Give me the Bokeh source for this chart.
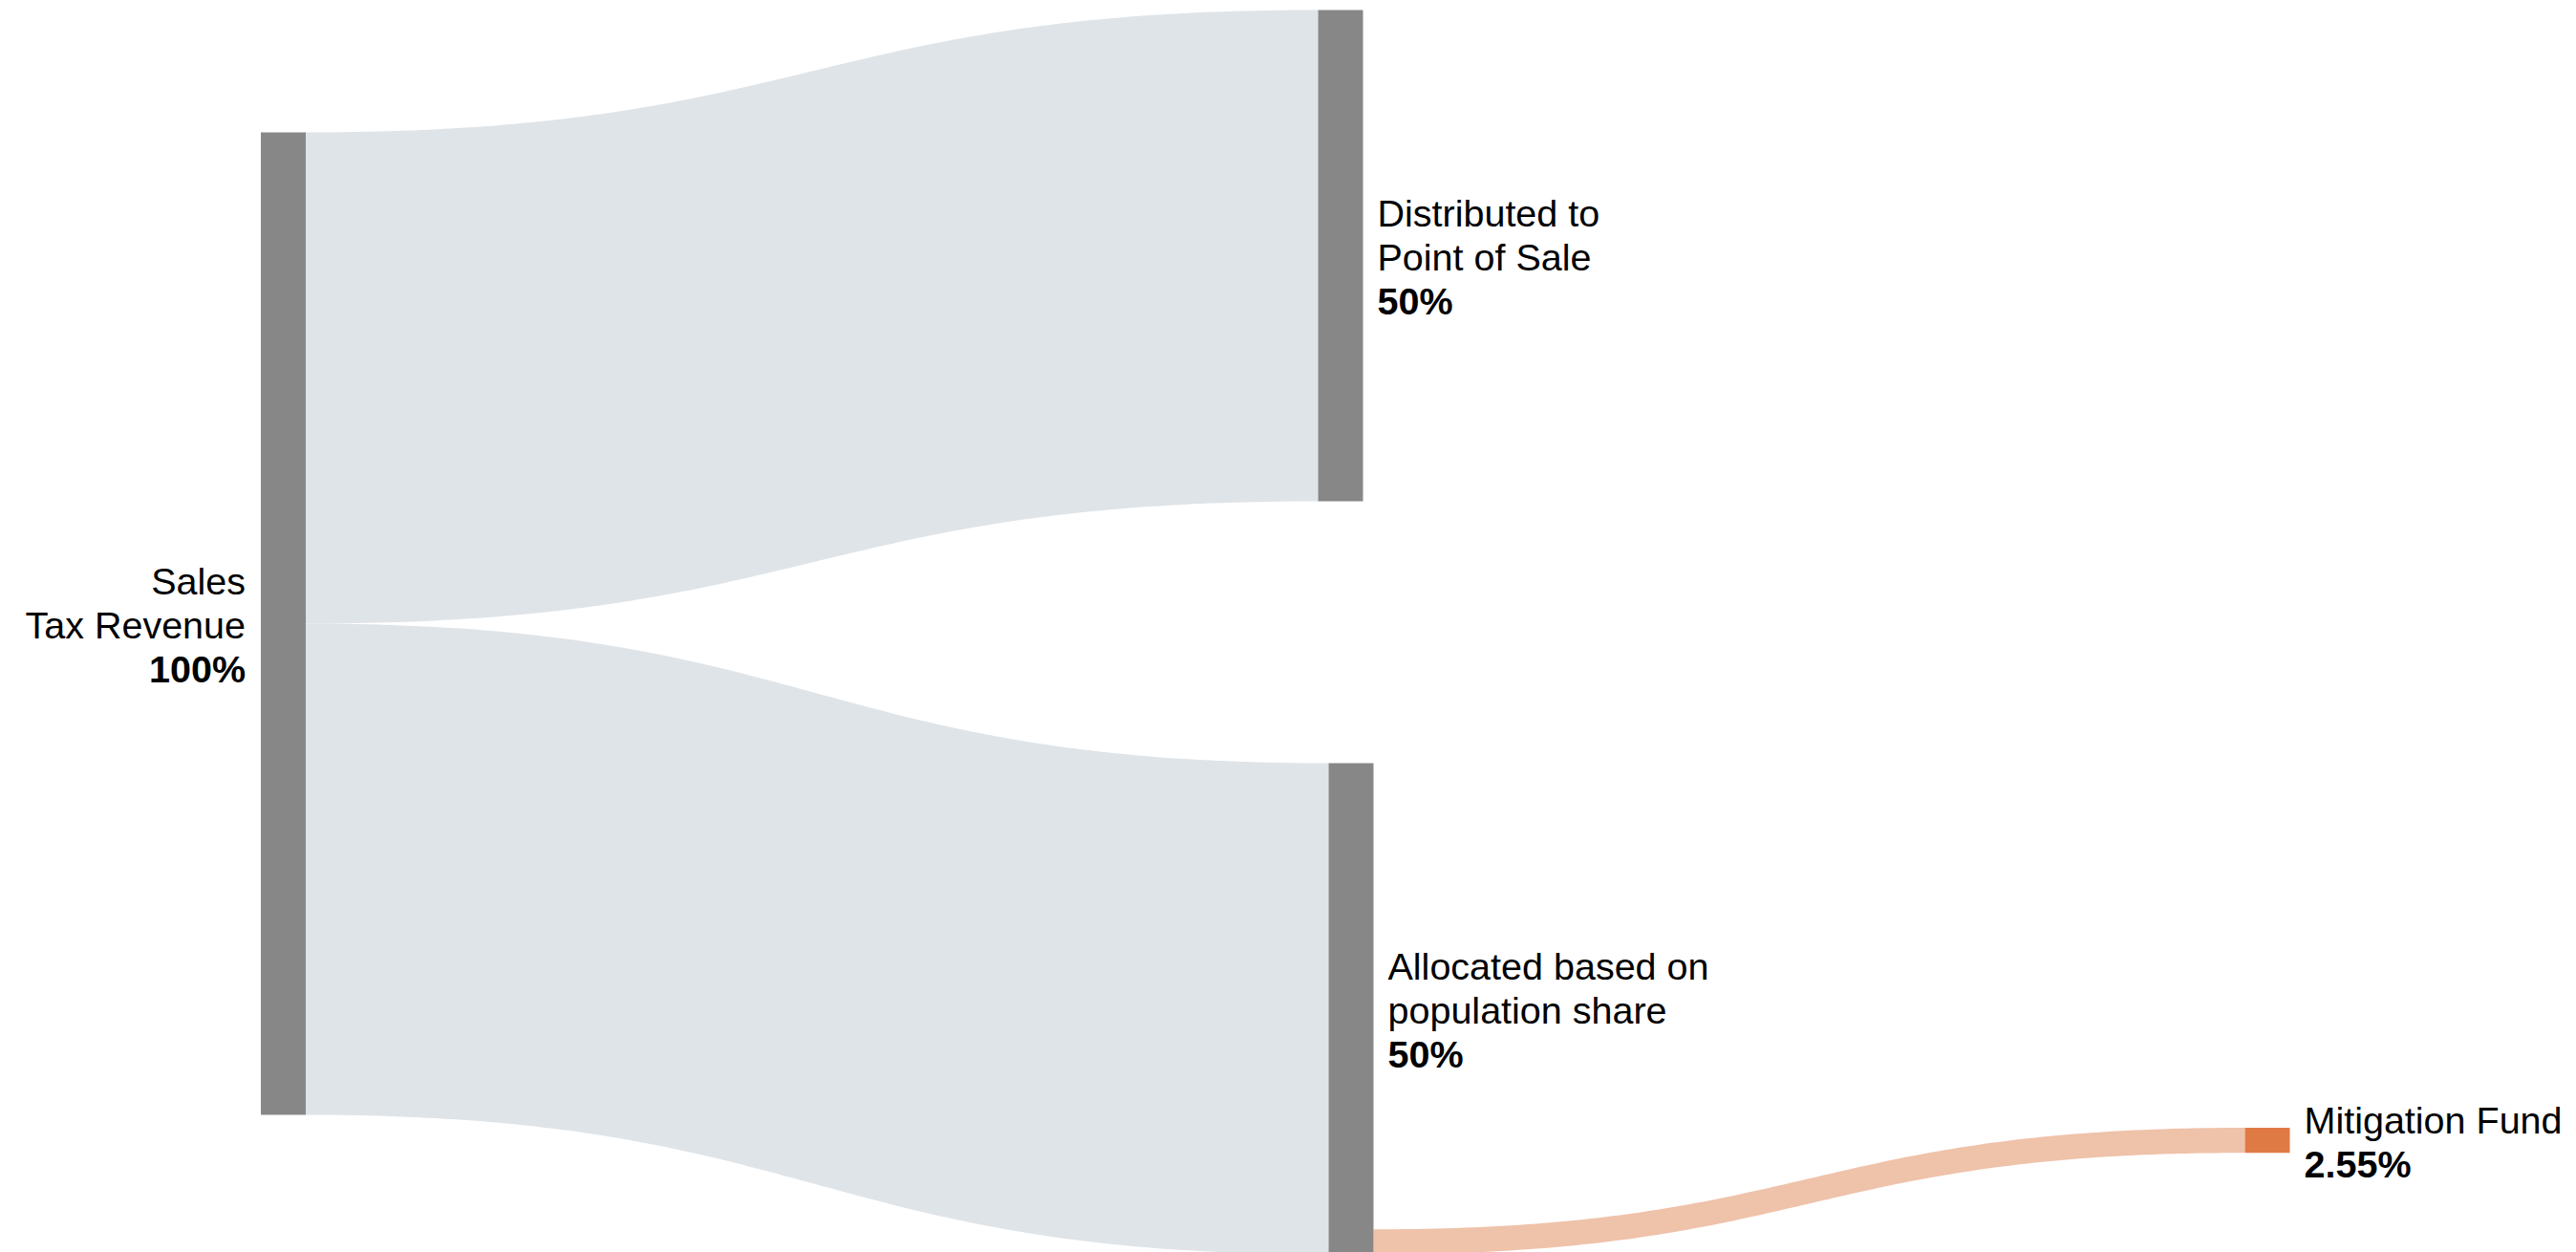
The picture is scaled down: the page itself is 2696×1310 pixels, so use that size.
import numpy as np
from bokeh.plotting import figure
from bokeh.models import Range1d
from bokeh.core.properties import value
from bokeh.embed import file_html
from bokeh.resources import INLINE

# ---------------- data ----------------
node_names = ["Sales\nTax Revenue", "Distributed to\nPoint of Sale",
              "Allocated based on\npopulation share", "Mitigation Fund"]
node_pct_labels = ["100%", "50%", "50%", "2.55%"]
link_sources = [0, 0, 2]
link_targets = [1, 2, 3]
link_values = [50, 50, 2.55]
node_colors = ["#878787", "#878787", "#878787", "#df7a45"]
link_colors = ["#dfe4e8", "#dfe4e8", "#efc2aa"]

# ---------------- layout ----------------
W, H = 2696, 1310
px_per_unit = 10.28
node_width = 47
node_left = [272.5, 1379, 1390, 2349]
node_top = [138, 10, 798, 1179.5]
label_side = ["left", "right", "right", "right"]
out_align = ["top", "top", "bottom", "top"]
font_px = 39.5
line_gap = 46
label_pad = 16
baseline_shift = 1.5

n = len(node_names)
in_sum = [0.0] * n
out_sum = [0.0] * n
for s, t, v in zip(link_sources, link_targets, link_values):
    out_sum[s] += v
    in_sum[t] += v
node_val = [max(a, b) for a, b in zip(in_sum, out_sum)]
node_h = [v * px_per_unit for v in node_val]
node_right = [l + node_width for l in node_left]
node_bottom = [t + h for t, h in zip(node_top, node_h)]

p = figure(width=W, height=H, x_range=Range1d(0, W), y_range=Range1d(H, 0),
           output_backend="svg", toolbar_location=None, min_border=0)
p.axis.visible = False
p.grid.visible = False
p.outline_line_color = None
p.background_fill_color = "white"
p.border_fill_color = "white"

# links
out_cursor = []
for i in range(n):
    if out_align[i] == "bottom":
        out_cursor.append(node_bottom[i] - out_sum[i] * px_per_unit)
    else:
        out_cursor.append(node_top[i])
in_cursor = list(node_top)

tt = np.linspace(0, 1, 120)
xs, ys = [], []
for s, t, v in zip(link_sources, link_targets, link_values):
    th = v * px_per_unit
    y0 = out_cursor[s]; out_cursor[s] += th
    y1 = in_cursor[t]; in_cursor[t] += th
    x0, x1 = node_right[s], node_left[t]
    xm = (x0 + x1) / 2
    bx = (1 - tt) ** 3 * x0 + 3 * (1 - tt) ** 2 * tt * xm + 3 * (1 - tt) * tt ** 2 * xm + tt ** 3 * x1
    sm = 3 * tt ** 2 - 2 * tt ** 3
    top_y = y0 + (y1 - y0) * sm
    bot_y = top_y + th
    xs.append(list(bx) + list(bx[::-1]))
    ys.append(list(top_y) + list(bot_y[::-1]))

p.patches(xs, ys, fill_color=link_colors, line_color=None)

# nodes
p.quad(left=node_left, right=node_right, top=node_top, bottom=node_bottom,
       fill_color=node_colors, line_color=None)

# labels
for i in range(n):
    lines = node_names[i].split("\n") + [node_pct_labels[i]]
    k = len(lines)
    center = (node_top[i] + node_bottom[i]) / 2
    if label_side[i] == "left":
        x = node_left[i] - label_pad
        align = "right"
    else:
        x = node_right[i] + label_pad - 1
        align = "left"
    for j, txt in enumerate(lines):
        y = center + baseline_shift + (j - (k - 1) / 2) * line_gap
        p.text(x=[x], y=[y], text=[txt], text_font=value("Liberation Sans"),
               text_font_size=f"{font_px}px", text_align=align,
               text_baseline="alphabetic", text_color="#000000",
               text_font_style="bold" if j == k - 1 else "normal")

open("out.html", "w").write(file_html(p, INLINE))
